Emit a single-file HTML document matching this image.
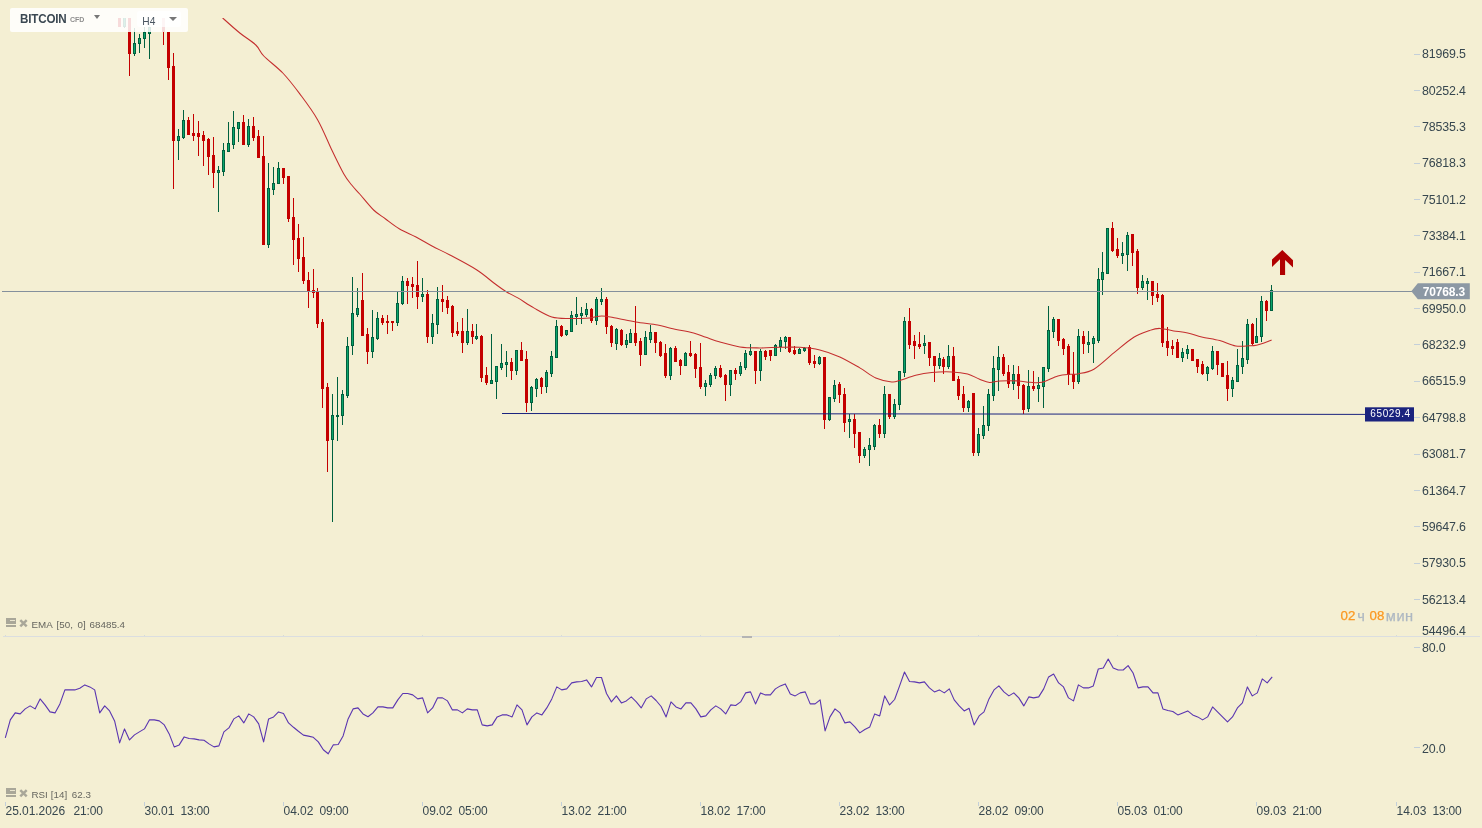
<!DOCTYPE html><html><head><meta charset="utf-8"><title>BITCOIN H4</title><style>

html,body{margin:0;padding:0}
body{width:1482px;height:828px;overflow:hidden;background:#f4efd3;font-family:"Liberation Sans",sans-serif;position:relative;color:#37474f}
.pl{position:absolute;left:1422.1px;font-size:12.4px;line-height:14px;height:14px;white-space:pre;letter-spacing:-0.17px}
.tl{position:absolute;top:803.7px;font-size:12px;line-height:14px;white-space:pre;letter-spacing:-0.06px}
.tb{position:absolute;left:10px;top:8px;width:178px;height:24px;background:rgba(255,255,255,0.86);border-radius:2px}
.h4{position:absolute;left:137px;top:10.5px;width:44px;height:16.5px;background:rgba(255,255,255,0.72);border-radius:2px}
.ind{position:absolute;left:31.4px;font-size:9.8px;line-height:12px;color:#66665f;white-space:pre}
.tm{position:absolute;top:608.2px;line-height:16px;white-space:pre;-webkit-text-stroke:0.25px}

</style></head><body>
<svg width="1482" height="828" viewBox="0 0 1482 828" style="position:absolute;left:0;top:0">
<defs><clipPath id="cp"><rect x="0" y="18" width="1482" height="618"/></clipPath></defs>
<g shape-rendering="crispEdges">
<rect x="3" y="636" width="1477" height="1" fill="#dbdee0"/>
<rect x="742" y="636" width="10" height="2" fill="#b4b4b4"/>
</g>
<g clip-path="url(#cp)" shape-rendering="crispEdges">
<rect x="119" y="0" width="1" height="27" fill="#c40000"/>
<rect x="118" y="0" width="3" height="27" fill="#c40000"/>
<rect x="124" y="0" width="1" height="28" fill="#00603f"/>
<rect x="123" y="0" width="3" height="27" fill="#00603f"/>
<rect x="124" y="1" width="1" height="25" fill="#0aa56a"/>
<rect x="129" y="0" width="1" height="76" fill="#c40000"/>
<rect x="128" y="0" width="3" height="54" fill="#c40000"/>
<rect x="134" y="28" width="1" height="28" fill="#00603f"/>
<rect x="133" y="43" width="3" height="11" fill="#00603f"/>
<rect x="134" y="44" width="1" height="9" fill="#0aa56a"/>
<rect x="139" y="34" width="1" height="19" fill="#00603f"/>
<rect x="138" y="38" width="3" height="6" fill="#00603f"/>
<rect x="139" y="39" width="1" height="4" fill="#0aa56a"/>
<rect x="144" y="27" width="1" height="21" fill="#00603f"/>
<rect x="143" y="32" width="3" height="7" fill="#00603f"/>
<rect x="144" y="33" width="1" height="5" fill="#0aa56a"/>
<rect x="149" y="22" width="1" height="37" fill="#00603f"/>
<rect x="148" y="27" width="3" height="7" fill="#00603f"/>
<rect x="149" y="28" width="1" height="5" fill="#0aa56a"/>
<rect x="163" y="0" width="1" height="45" fill="#c40000"/>
<rect x="162" y="0" width="3" height="32" fill="#c40000"/>
<rect x="168" y="32" width="1" height="48" fill="#c40000"/>
<rect x="167" y="32" width="3" height="36" fill="#c40000"/>
<rect x="173" y="53" width="1" height="136" fill="#c40000"/>
<rect x="172" y="66" width="3" height="75" fill="#c40000"/>
<rect x="178" y="129" width="1" height="31" fill="#00603f"/>
<rect x="177" y="136" width="3" height="5" fill="#00603f"/>
<rect x="178" y="137" width="1" height="3" fill="#0aa56a"/>
<rect x="183" y="110" width="1" height="29" fill="#00603f"/>
<rect x="182" y="120" width="3" height="18" fill="#00603f"/>
<rect x="183" y="121" width="1" height="16" fill="#0aa56a"/>
<rect x="188" y="117" width="1" height="18" fill="#c40000"/>
<rect x="187" y="120" width="3" height="15" fill="#c40000"/>
<rect x="193" y="114" width="1" height="27" fill="#c40000"/>
<rect x="192" y="133" width="3" height="3" fill="#c40000"/>
<rect x="198" y="121" width="1" height="35" fill="#c40000"/>
<rect x="197" y="133" width="3" height="4" fill="#c40000"/>
<rect x="203" y="131" width="1" height="35" fill="#c40000"/>
<rect x="202" y="135" width="3" height="6" fill="#c40000"/>
<rect x="208" y="138" width="1" height="37" fill="#c40000"/>
<rect x="207" y="139" width="3" height="18" fill="#c40000"/>
<rect x="213" y="137" width="1" height="51" fill="#c40000"/>
<rect x="212" y="155" width="3" height="18" fill="#c40000"/>
<rect x="218" y="166" width="1" height="46" fill="#00603f"/>
<rect x="217" y="170" width="3" height="3" fill="#00603f"/>
<rect x="218" y="171" width="1" height="1" fill="#0aa56a"/>
<rect x="223" y="143" width="1" height="33" fill="#00603f"/>
<rect x="222" y="150" width="3" height="22" fill="#00603f"/>
<rect x="223" y="151" width="1" height="20" fill="#0aa56a"/>
<rect x="228" y="122" width="1" height="30" fill="#00603f"/>
<rect x="227" y="143" width="3" height="9" fill="#00603f"/>
<rect x="228" y="144" width="1" height="7" fill="#0aa56a"/>
<rect x="233" y="111" width="1" height="38" fill="#00603f"/>
<rect x="232" y="127" width="3" height="18" fill="#00603f"/>
<rect x="233" y="128" width="1" height="16" fill="#0aa56a"/>
<rect x="238" y="122" width="1" height="20" fill="#00603f"/>
<rect x="237" y="122" width="3" height="7" fill="#00603f"/>
<rect x="238" y="123" width="1" height="5" fill="#0aa56a"/>
<rect x="243" y="115" width="1" height="30" fill="#c40000"/>
<rect x="242" y="122" width="3" height="23" fill="#c40000"/>
<rect x="248" y="119" width="1" height="28" fill="#00603f"/>
<rect x="247" y="126" width="3" height="19" fill="#00603f"/>
<rect x="248" y="127" width="1" height="17" fill="#0aa56a"/>
<rect x="253" y="117" width="1" height="24" fill="#c40000"/>
<rect x="252" y="126" width="3" height="12" fill="#c40000"/>
<rect x="258" y="130" width="1" height="28" fill="#c40000"/>
<rect x="257" y="136" width="3" height="22" fill="#c40000"/>
<rect x="263" y="136" width="1" height="109" fill="#c40000"/>
<rect x="262" y="156" width="3" height="89" fill="#c40000"/>
<rect x="268" y="163" width="1" height="85" fill="#00603f"/>
<rect x="267" y="188" width="3" height="57" fill="#00603f"/>
<rect x="268" y="189" width="1" height="55" fill="#0aa56a"/>
<rect x="273" y="167" width="1" height="28" fill="#00603f"/>
<rect x="272" y="183" width="3" height="7" fill="#00603f"/>
<rect x="273" y="184" width="1" height="5" fill="#0aa56a"/>
<rect x="278" y="162" width="1" height="22" fill="#00603f"/>
<rect x="277" y="168" width="3" height="16" fill="#00603f"/>
<rect x="278" y="169" width="1" height="14" fill="#0aa56a"/>
<rect x="283" y="168" width="1" height="16" fill="#c40000"/>
<rect x="282" y="168" width="3" height="10" fill="#c40000"/>
<rect x="288" y="176" width="1" height="46" fill="#c40000"/>
<rect x="287" y="176" width="3" height="43" fill="#c40000"/>
<rect x="293" y="198" width="1" height="67" fill="#c40000"/>
<rect x="292" y="217" width="3" height="23" fill="#c40000"/>
<rect x="298" y="224" width="1" height="48" fill="#c40000"/>
<rect x="297" y="238" width="3" height="21" fill="#c40000"/>
<rect x="303" y="237" width="1" height="47" fill="#c40000"/>
<rect x="302" y="257" width="3" height="24" fill="#c40000"/>
<rect x="308" y="272" width="1" height="36" fill="#c40000"/>
<rect x="307" y="280" width="3" height="11" fill="#c40000"/>
<rect x="313" y="269" width="1" height="29" fill="#c40000"/>
<rect x="312" y="290" width="3" height="3" fill="#c40000"/>
<rect x="317" y="288" width="1" height="40" fill="#c40000"/>
<rect x="316" y="291" width="3" height="33" fill="#c40000"/>
<rect x="322" y="319" width="1" height="89" fill="#c40000"/>
<rect x="321" y="322" width="3" height="67" fill="#c40000"/>
<rect x="327" y="383" width="1" height="89" fill="#c40000"/>
<rect x="326" y="387" width="3" height="54" fill="#c40000"/>
<rect x="332" y="394" width="1" height="128" fill="#00603f"/>
<rect x="331" y="415" width="3" height="25" fill="#00603f"/>
<rect x="332" y="416" width="1" height="23" fill="#0aa56a"/>
<rect x="337" y="377" width="1" height="64" fill="#00603f"/>
<rect x="336" y="415" width="3" height="2" fill="#00603f"/>
<rect x="342" y="390" width="1" height="35" fill="#00603f"/>
<rect x="341" y="394" width="3" height="22" fill="#00603f"/>
<rect x="342" y="395" width="1" height="20" fill="#0aa56a"/>
<rect x="347" y="337" width="1" height="61" fill="#00603f"/>
<rect x="346" y="346" width="3" height="50" fill="#00603f"/>
<rect x="347" y="347" width="1" height="48" fill="#0aa56a"/>
<rect x="352" y="277" width="1" height="78" fill="#00603f"/>
<rect x="351" y="313" width="3" height="33" fill="#00603f"/>
<rect x="352" y="314" width="1" height="31" fill="#0aa56a"/>
<rect x="357" y="288" width="1" height="29" fill="#00603f"/>
<rect x="356" y="308" width="3" height="7" fill="#00603f"/>
<rect x="357" y="309" width="1" height="5" fill="#0aa56a"/>
<rect x="362" y="273" width="1" height="63" fill="#c40000"/>
<rect x="361" y="300" width="3" height="36" fill="#c40000"/>
<rect x="367" y="328" width="1" height="36" fill="#c40000"/>
<rect x="366" y="334" width="3" height="18" fill="#c40000"/>
<rect x="372" y="310" width="1" height="48" fill="#00603f"/>
<rect x="371" y="337" width="3" height="15" fill="#00603f"/>
<rect x="372" y="338" width="1" height="13" fill="#0aa56a"/>
<rect x="377" y="312" width="1" height="28" fill="#00603f"/>
<rect x="376" y="318" width="3" height="21" fill="#00603f"/>
<rect x="377" y="319" width="1" height="19" fill="#0aa56a"/>
<rect x="382" y="315" width="1" height="10" fill="#c40000"/>
<rect x="381" y="318" width="3" height="5" fill="#c40000"/>
<rect x="387" y="315" width="1" height="19" fill="#c40000"/>
<rect x="386" y="321" width="3" height="2" fill="#c40000"/>
<rect x="392" y="321" width="1" height="10" fill="#c40000"/>
<rect x="391" y="321" width="3" height="2" fill="#c40000"/>
<rect x="397" y="292" width="1" height="34" fill="#00603f"/>
<rect x="396" y="303" width="3" height="20" fill="#00603f"/>
<rect x="397" y="304" width="1" height="18" fill="#0aa56a"/>
<rect x="402" y="276" width="1" height="29" fill="#00603f"/>
<rect x="401" y="281" width="3" height="23" fill="#00603f"/>
<rect x="402" y="282" width="1" height="21" fill="#0aa56a"/>
<rect x="407" y="278" width="1" height="26" fill="#c40000"/>
<rect x="406" y="281" width="3" height="5" fill="#c40000"/>
<rect x="412" y="277" width="1" height="21" fill="#c40000"/>
<rect x="411" y="284" width="3" height="3" fill="#c40000"/>
<rect x="417" y="261" width="1" height="48" fill="#c40000"/>
<rect x="416" y="285" width="3" height="12" fill="#c40000"/>
<rect x="422" y="278" width="1" height="24" fill="#00603f"/>
<rect x="421" y="294" width="3" height="3" fill="#00603f"/>
<rect x="422" y="295" width="1" height="1" fill="#0aa56a"/>
<rect x="427" y="290" width="1" height="53" fill="#c40000"/>
<rect x="426" y="294" width="3" height="43" fill="#c40000"/>
<rect x="432" y="314" width="1" height="30" fill="#00603f"/>
<rect x="431" y="323" width="3" height="14" fill="#00603f"/>
<rect x="432" y="324" width="1" height="12" fill="#0aa56a"/>
<rect x="437" y="287" width="1" height="47" fill="#00603f"/>
<rect x="436" y="299" width="3" height="26" fill="#00603f"/>
<rect x="437" y="300" width="1" height="24" fill="#0aa56a"/>
<rect x="442" y="285" width="1" height="27" fill="#c40000"/>
<rect x="441" y="299" width="3" height="3" fill="#c40000"/>
<rect x="447" y="296" width="1" height="18" fill="#c40000"/>
<rect x="446" y="300" width="3" height="8" fill="#c40000"/>
<rect x="452" y="305" width="1" height="32" fill="#c40000"/>
<rect x="451" y="306" width="3" height="27" fill="#c40000"/>
<rect x="457" y="322" width="1" height="14" fill="#c40000"/>
<rect x="456" y="331" width="3" height="3" fill="#c40000"/>
<rect x="462" y="318" width="1" height="35" fill="#c40000"/>
<rect x="461" y="331" width="3" height="12" fill="#c40000"/>
<rect x="467" y="309" width="1" height="36" fill="#00603f"/>
<rect x="466" y="331" width="3" height="12" fill="#00603f"/>
<rect x="467" y="332" width="1" height="10" fill="#0aa56a"/>
<rect x="472" y="324" width="1" height="20" fill="#c40000"/>
<rect x="471" y="331" width="3" height="6" fill="#c40000"/>
<rect x="476" y="324" width="1" height="16" fill="#00603f"/>
<rect x="475" y="336" width="3" height="3" fill="#00603f"/>
<rect x="476" y="337" width="1" height="1" fill="#0aa56a"/>
<rect x="481" y="335" width="1" height="47" fill="#c40000"/>
<rect x="480" y="336" width="3" height="42" fill="#c40000"/>
<rect x="486" y="367" width="1" height="18" fill="#c40000"/>
<rect x="485" y="375" width="3" height="8" fill="#c40000"/>
<rect x="491" y="334" width="1" height="50" fill="#00603f"/>
<rect x="490" y="380" width="3" height="4" fill="#00603f"/>
<rect x="491" y="381" width="1" height="2" fill="#0aa56a"/>
<rect x="496" y="366" width="1" height="33" fill="#00603f"/>
<rect x="495" y="366" width="3" height="16" fill="#00603f"/>
<rect x="496" y="367" width="1" height="14" fill="#0aa56a"/>
<rect x="501" y="344" width="1" height="26" fill="#00603f"/>
<rect x="500" y="363" width="3" height="5" fill="#00603f"/>
<rect x="501" y="364" width="1" height="3" fill="#0aa56a"/>
<rect x="506" y="351" width="1" height="26" fill="#00603f"/>
<rect x="505" y="362" width="3" height="3" fill="#00603f"/>
<rect x="506" y="363" width="1" height="1" fill="#0aa56a"/>
<rect x="511" y="358" width="1" height="22" fill="#c40000"/>
<rect x="510" y="362" width="3" height="9" fill="#c40000"/>
<rect x="516" y="350" width="1" height="25" fill="#00603f"/>
<rect x="515" y="350" width="3" height="21" fill="#00603f"/>
<rect x="516" y="351" width="1" height="19" fill="#0aa56a"/>
<rect x="521" y="342" width="1" height="19" fill="#c40000"/>
<rect x="520" y="350" width="3" height="11" fill="#c40000"/>
<rect x="526" y="351" width="1" height="61" fill="#c40000"/>
<rect x="525" y="359" width="3" height="44" fill="#c40000"/>
<rect x="531" y="386" width="1" height="25" fill="#00603f"/>
<rect x="530" y="387" width="3" height="16" fill="#00603f"/>
<rect x="531" y="388" width="1" height="14" fill="#0aa56a"/>
<rect x="536" y="378" width="1" height="19" fill="#00603f"/>
<rect x="535" y="379" width="3" height="10" fill="#00603f"/>
<rect x="536" y="380" width="1" height="8" fill="#0aa56a"/>
<rect x="541" y="377" width="1" height="17" fill="#c40000"/>
<rect x="540" y="378" width="3" height="9" fill="#c40000"/>
<rect x="546" y="370" width="1" height="23" fill="#00603f"/>
<rect x="545" y="372" width="3" height="15" fill="#00603f"/>
<rect x="546" y="373" width="1" height="13" fill="#0aa56a"/>
<rect x="551" y="351" width="1" height="26" fill="#00603f"/>
<rect x="550" y="356" width="3" height="18" fill="#00603f"/>
<rect x="551" y="357" width="1" height="16" fill="#0aa56a"/>
<rect x="556" y="320" width="1" height="38" fill="#00603f"/>
<rect x="555" y="326" width="3" height="32" fill="#00603f"/>
<rect x="556" y="327" width="1" height="30" fill="#0aa56a"/>
<rect x="561" y="325" width="1" height="12" fill="#c40000"/>
<rect x="560" y="326" width="3" height="10" fill="#c40000"/>
<rect x="566" y="330" width="1" height="6" fill="#00603f"/>
<rect x="565" y="330" width="3" height="5" fill="#00603f"/>
<rect x="566" y="331" width="1" height="3" fill="#0aa56a"/>
<rect x="571" y="311" width="1" height="21" fill="#00603f"/>
<rect x="570" y="315" width="3" height="17" fill="#00603f"/>
<rect x="571" y="316" width="1" height="15" fill="#0aa56a"/>
<rect x="576" y="297" width="1" height="28" fill="#00603f"/>
<rect x="575" y="314" width="3" height="3" fill="#00603f"/>
<rect x="576" y="315" width="1" height="1" fill="#0aa56a"/>
<rect x="581" y="307" width="1" height="17" fill="#00603f"/>
<rect x="580" y="313" width="3" height="3" fill="#00603f"/>
<rect x="581" y="314" width="1" height="1" fill="#0aa56a"/>
<rect x="586" y="303" width="1" height="14" fill="#00603f"/>
<rect x="585" y="309" width="3" height="6" fill="#00603f"/>
<rect x="586" y="310" width="1" height="4" fill="#0aa56a"/>
<rect x="591" y="308" width="1" height="15" fill="#c40000"/>
<rect x="590" y="309" width="3" height="12" fill="#c40000"/>
<rect x="596" y="297" width="1" height="28" fill="#00603f"/>
<rect x="595" y="299" width="3" height="22" fill="#00603f"/>
<rect x="596" y="300" width="1" height="20" fill="#0aa56a"/>
<rect x="601" y="288" width="1" height="17" fill="#00603f"/>
<rect x="600" y="299" width="3" height="3" fill="#00603f"/>
<rect x="601" y="300" width="1" height="1" fill="#0aa56a"/>
<rect x="606" y="297" width="1" height="37" fill="#c40000"/>
<rect x="605" y="299" width="3" height="28" fill="#c40000"/>
<rect x="611" y="325" width="1" height="22" fill="#c40000"/>
<rect x="610" y="326" width="3" height="17" fill="#c40000"/>
<rect x="616" y="328" width="1" height="22" fill="#00603f"/>
<rect x="615" y="329" width="3" height="15" fill="#00603f"/>
<rect x="616" y="330" width="1" height="13" fill="#0aa56a"/>
<rect x="621" y="329" width="1" height="17" fill="#c40000"/>
<rect x="620" y="330" width="3" height="15" fill="#c40000"/>
<rect x="626" y="334" width="1" height="14" fill="#00603f"/>
<rect x="625" y="340" width="3" height="5" fill="#00603f"/>
<rect x="626" y="341" width="1" height="3" fill="#0aa56a"/>
<rect x="630" y="329" width="1" height="14" fill="#00603f"/>
<rect x="629" y="333" width="3" height="10" fill="#00603f"/>
<rect x="630" y="334" width="1" height="8" fill="#0aa56a"/>
<rect x="635" y="306" width="1" height="40" fill="#c40000"/>
<rect x="634" y="333" width="3" height="10" fill="#c40000"/>
<rect x="640" y="338" width="1" height="28" fill="#c40000"/>
<rect x="639" y="341" width="3" height="14" fill="#c40000"/>
<rect x="645" y="331" width="1" height="24" fill="#00603f"/>
<rect x="644" y="337" width="3" height="18" fill="#00603f"/>
<rect x="645" y="338" width="1" height="16" fill="#0aa56a"/>
<rect x="650" y="325" width="1" height="18" fill="#00603f"/>
<rect x="649" y="332" width="3" height="8" fill="#00603f"/>
<rect x="650" y="333" width="1" height="6" fill="#0aa56a"/>
<rect x="655" y="332" width="1" height="21" fill="#c40000"/>
<rect x="654" y="332" width="3" height="11" fill="#c40000"/>
<rect x="660" y="341" width="1" height="16" fill="#c40000"/>
<rect x="659" y="342" width="3" height="14" fill="#c40000"/>
<rect x="665" y="344" width="1" height="34" fill="#c40000"/>
<rect x="664" y="353" width="3" height="23" fill="#c40000"/>
<rect x="670" y="347" width="1" height="33" fill="#00603f"/>
<rect x="669" y="348" width="3" height="28" fill="#00603f"/>
<rect x="670" y="349" width="1" height="26" fill="#0aa56a"/>
<rect x="675" y="346" width="1" height="16" fill="#c40000"/>
<rect x="674" y="348" width="3" height="14" fill="#c40000"/>
<rect x="680" y="359" width="1" height="16" fill="#c40000"/>
<rect x="679" y="360" width="3" height="6" fill="#c40000"/>
<rect x="685" y="352" width="1" height="14" fill="#00603f"/>
<rect x="684" y="353" width="3" height="13" fill="#00603f"/>
<rect x="685" y="354" width="1" height="11" fill="#0aa56a"/>
<rect x="690" y="341" width="1" height="16" fill="#c40000"/>
<rect x="689" y="353" width="3" height="3" fill="#c40000"/>
<rect x="695" y="353" width="1" height="25" fill="#c40000"/>
<rect x="694" y="354" width="3" height="15" fill="#c40000"/>
<rect x="700" y="343" width="1" height="46" fill="#c40000"/>
<rect x="699" y="367" width="3" height="20" fill="#c40000"/>
<rect x="705" y="380" width="1" height="16" fill="#00603f"/>
<rect x="704" y="383" width="3" height="4" fill="#00603f"/>
<rect x="705" y="384" width="1" height="2" fill="#0aa56a"/>
<rect x="710" y="373" width="1" height="14" fill="#00603f"/>
<rect x="709" y="375" width="3" height="10" fill="#00603f"/>
<rect x="710" y="376" width="1" height="8" fill="#0aa56a"/>
<rect x="715" y="366" width="1" height="13" fill="#00603f"/>
<rect x="714" y="368" width="3" height="8" fill="#00603f"/>
<rect x="715" y="369" width="1" height="6" fill="#0aa56a"/>
<rect x="720" y="365" width="1" height="13" fill="#c40000"/>
<rect x="719" y="368" width="3" height="9" fill="#c40000"/>
<rect x="725" y="374" width="1" height="27" fill="#c40000"/>
<rect x="724" y="375" width="3" height="10" fill="#c40000"/>
<rect x="730" y="370" width="1" height="26" fill="#00603f"/>
<rect x="729" y="370" width="3" height="15" fill="#00603f"/>
<rect x="730" y="371" width="1" height="13" fill="#0aa56a"/>
<rect x="735" y="368" width="1" height="12" fill="#c40000"/>
<rect x="734" y="370" width="3" height="4" fill="#c40000"/>
<rect x="740" y="362" width="1" height="14" fill="#00603f"/>
<rect x="739" y="366" width="3" height="8" fill="#00603f"/>
<rect x="740" y="367" width="1" height="6" fill="#0aa56a"/>
<rect x="745" y="350" width="1" height="20" fill="#00603f"/>
<rect x="744" y="353" width="3" height="15" fill="#00603f"/>
<rect x="745" y="354" width="1" height="13" fill="#0aa56a"/>
<rect x="750" y="344" width="1" height="12" fill="#00603f"/>
<rect x="749" y="351" width="3" height="4" fill="#00603f"/>
<rect x="750" y="352" width="1" height="2" fill="#0aa56a"/>
<rect x="755" y="351" width="1" height="33" fill="#c40000"/>
<rect x="754" y="351" width="3" height="20" fill="#c40000"/>
<rect x="760" y="349" width="1" height="32" fill="#00603f"/>
<rect x="759" y="351" width="3" height="20" fill="#00603f"/>
<rect x="760" y="352" width="1" height="18" fill="#0aa56a"/>
<rect x="765" y="350" width="1" height="10" fill="#c40000"/>
<rect x="764" y="351" width="3" height="6" fill="#c40000"/>
<rect x="770" y="350" width="1" height="11" fill="#c40000"/>
<rect x="769" y="350" width="3" height="6" fill="#c40000"/>
<rect x="775" y="344" width="1" height="12" fill="#00603f"/>
<rect x="774" y="345" width="3" height="11" fill="#00603f"/>
<rect x="775" y="346" width="1" height="9" fill="#0aa56a"/>
<rect x="780" y="337" width="1" height="15" fill="#00603f"/>
<rect x="779" y="340" width="3" height="7" fill="#00603f"/>
<rect x="780" y="341" width="1" height="5" fill="#0aa56a"/>
<rect x="785" y="336" width="1" height="13" fill="#00603f"/>
<rect x="784" y="337" width="3" height="5" fill="#00603f"/>
<rect x="785" y="338" width="1" height="3" fill="#0aa56a"/>
<rect x="789" y="337" width="1" height="16" fill="#c40000"/>
<rect x="788" y="337" width="3" height="15" fill="#c40000"/>
<rect x="794" y="346" width="1" height="9" fill="#c40000"/>
<rect x="793" y="350" width="3" height="4" fill="#c40000"/>
<rect x="799" y="348" width="1" height="6" fill="#00603f"/>
<rect x="798" y="349" width="3" height="5" fill="#00603f"/>
<rect x="799" y="350" width="1" height="3" fill="#0aa56a"/>
<rect x="804" y="347" width="1" height="5" fill="#00603f"/>
<rect x="803" y="348" width="3" height="3" fill="#00603f"/>
<rect x="804" y="349" width="1" height="1" fill="#0aa56a"/>
<rect x="809" y="345" width="1" height="20" fill="#c40000"/>
<rect x="808" y="347" width="3" height="16" fill="#c40000"/>
<rect x="814" y="355" width="1" height="13" fill="#c40000"/>
<rect x="813" y="361" width="3" height="3" fill="#c40000"/>
<rect x="819" y="356" width="1" height="9" fill="#00603f"/>
<rect x="818" y="357" width="3" height="7" fill="#00603f"/>
<rect x="819" y="358" width="1" height="5" fill="#0aa56a"/>
<rect x="824" y="357" width="1" height="72" fill="#c40000"/>
<rect x="823" y="357" width="3" height="63" fill="#c40000"/>
<rect x="829" y="397" width="1" height="24" fill="#00603f"/>
<rect x="828" y="397" width="3" height="23" fill="#00603f"/>
<rect x="829" y="398" width="1" height="21" fill="#0aa56a"/>
<rect x="834" y="380" width="1" height="22" fill="#00603f"/>
<rect x="833" y="385" width="3" height="14" fill="#00603f"/>
<rect x="834" y="386" width="1" height="12" fill="#0aa56a"/>
<rect x="839" y="382" width="1" height="21" fill="#c40000"/>
<rect x="838" y="384" width="3" height="11" fill="#c40000"/>
<rect x="844" y="388" width="1" height="44" fill="#c40000"/>
<rect x="843" y="394" width="3" height="29" fill="#c40000"/>
<rect x="849" y="414" width="1" height="24" fill="#00603f"/>
<rect x="848" y="419" width="3" height="3" fill="#00603f"/>
<rect x="849" y="420" width="1" height="1" fill="#0aa56a"/>
<rect x="854" y="414" width="1" height="34" fill="#c40000"/>
<rect x="853" y="419" width="3" height="15" fill="#c40000"/>
<rect x="859" y="432" width="1" height="31" fill="#c40000"/>
<rect x="858" y="432" width="3" height="24" fill="#c40000"/>
<rect x="864" y="447" width="1" height="11" fill="#00603f"/>
<rect x="863" y="449" width="3" height="7" fill="#00603f"/>
<rect x="864" y="450" width="1" height="5" fill="#0aa56a"/>
<rect x="869" y="438" width="1" height="28" fill="#00603f"/>
<rect x="868" y="445" width="3" height="5" fill="#00603f"/>
<rect x="869" y="446" width="1" height="3" fill="#0aa56a"/>
<rect x="874" y="424" width="1" height="26" fill="#00603f"/>
<rect x="873" y="425" width="3" height="22" fill="#00603f"/>
<rect x="874" y="426" width="1" height="20" fill="#0aa56a"/>
<rect x="879" y="419" width="1" height="19" fill="#c40000"/>
<rect x="878" y="425" width="3" height="9" fill="#c40000"/>
<rect x="884" y="386" width="1" height="52" fill="#00603f"/>
<rect x="883" y="394" width="3" height="40" fill="#00603f"/>
<rect x="884" y="395" width="1" height="38" fill="#0aa56a"/>
<rect x="889" y="394" width="1" height="25" fill="#c40000"/>
<rect x="888" y="394" width="3" height="23" fill="#c40000"/>
<rect x="894" y="399" width="1" height="20" fill="#00603f"/>
<rect x="893" y="404" width="3" height="13" fill="#00603f"/>
<rect x="894" y="405" width="1" height="11" fill="#0aa56a"/>
<rect x="899" y="371" width="1" height="39" fill="#00603f"/>
<rect x="898" y="371" width="3" height="34" fill="#00603f"/>
<rect x="899" y="372" width="1" height="32" fill="#0aa56a"/>
<rect x="904" y="317" width="1" height="60" fill="#00603f"/>
<rect x="903" y="321" width="3" height="52" fill="#00603f"/>
<rect x="904" y="322" width="1" height="50" fill="#0aa56a"/>
<rect x="909" y="308" width="1" height="41" fill="#c40000"/>
<rect x="908" y="321" width="3" height="24" fill="#c40000"/>
<rect x="914" y="335" width="1" height="24" fill="#c40000"/>
<rect x="913" y="341" width="3" height="5" fill="#c40000"/>
<rect x="919" y="332" width="1" height="17" fill="#c40000"/>
<rect x="918" y="344" width="3" height="3" fill="#c40000"/>
<rect x="924" y="335" width="1" height="19" fill="#00603f"/>
<rect x="923" y="343" width="3" height="3" fill="#00603f"/>
<rect x="924" y="344" width="1" height="1" fill="#0aa56a"/>
<rect x="929" y="342" width="1" height="24" fill="#c40000"/>
<rect x="928" y="342" width="3" height="16" fill="#c40000"/>
<rect x="934" y="356" width="1" height="26" fill="#c40000"/>
<rect x="933" y="356" width="3" height="10" fill="#c40000"/>
<rect x="939" y="353" width="1" height="16" fill="#00603f"/>
<rect x="938" y="358" width="3" height="8" fill="#00603f"/>
<rect x="939" y="359" width="1" height="6" fill="#0aa56a"/>
<rect x="943" y="357" width="1" height="17" fill="#c40000"/>
<rect x="942" y="359" width="3" height="8" fill="#c40000"/>
<rect x="948" y="345" width="1" height="24" fill="#00603f"/>
<rect x="947" y="356" width="3" height="11" fill="#00603f"/>
<rect x="948" y="357" width="1" height="9" fill="#0aa56a"/>
<rect x="953" y="347" width="1" height="34" fill="#c40000"/>
<rect x="952" y="356" width="3" height="25" fill="#c40000"/>
<rect x="958" y="376" width="1" height="24" fill="#c40000"/>
<rect x="957" y="379" width="3" height="17" fill="#c40000"/>
<rect x="963" y="386" width="1" height="26" fill="#c40000"/>
<rect x="962" y="394" width="3" height="14" fill="#c40000"/>
<rect x="968" y="400" width="1" height="12" fill="#00603f"/>
<rect x="967" y="401" width="3" height="7" fill="#00603f"/>
<rect x="968" y="402" width="1" height="5" fill="#0aa56a"/>
<rect x="973" y="393" width="1" height="63" fill="#c40000"/>
<rect x="972" y="393" width="3" height="60" fill="#c40000"/>
<rect x="978" y="428" width="1" height="28" fill="#00603f"/>
<rect x="977" y="434" width="3" height="19" fill="#00603f"/>
<rect x="978" y="435" width="1" height="17" fill="#0aa56a"/>
<rect x="983" y="406" width="1" height="33" fill="#00603f"/>
<rect x="982" y="425" width="3" height="11" fill="#00603f"/>
<rect x="983" y="426" width="1" height="9" fill="#0aa56a"/>
<rect x="988" y="389" width="1" height="42" fill="#00603f"/>
<rect x="987" y="394" width="3" height="32" fill="#00603f"/>
<rect x="988" y="395" width="1" height="30" fill="#0aa56a"/>
<rect x="993" y="356" width="1" height="45" fill="#00603f"/>
<rect x="992" y="368" width="3" height="28" fill="#00603f"/>
<rect x="993" y="369" width="1" height="26" fill="#0aa56a"/>
<rect x="998" y="346" width="1" height="45" fill="#00603f"/>
<rect x="997" y="357" width="3" height="13" fill="#00603f"/>
<rect x="998" y="358" width="1" height="11" fill="#0aa56a"/>
<rect x="1003" y="354" width="1" height="22" fill="#c40000"/>
<rect x="1002" y="357" width="3" height="17" fill="#c40000"/>
<rect x="1008" y="365" width="1" height="23" fill="#c40000"/>
<rect x="1007" y="372" width="3" height="12" fill="#c40000"/>
<rect x="1013" y="365" width="1" height="25" fill="#00603f"/>
<rect x="1012" y="374" width="3" height="10" fill="#00603f"/>
<rect x="1013" y="375" width="1" height="8" fill="#0aa56a"/>
<rect x="1018" y="366" width="1" height="33" fill="#c40000"/>
<rect x="1017" y="374" width="3" height="12" fill="#c40000"/>
<rect x="1023" y="384" width="1" height="30" fill="#c40000"/>
<rect x="1022" y="385" width="3" height="25" fill="#c40000"/>
<rect x="1028" y="370" width="1" height="42" fill="#00603f"/>
<rect x="1027" y="386" width="3" height="23" fill="#00603f"/>
<rect x="1028" y="387" width="1" height="21" fill="#0aa56a"/>
<rect x="1033" y="371" width="1" height="20" fill="#c40000"/>
<rect x="1032" y="386" width="3" height="3" fill="#c40000"/>
<rect x="1038" y="377" width="1" height="25" fill="#00603f"/>
<rect x="1037" y="385" width="3" height="4" fill="#00603f"/>
<rect x="1038" y="386" width="1" height="2" fill="#0aa56a"/>
<rect x="1043" y="367" width="1" height="41" fill="#00603f"/>
<rect x="1042" y="367" width="3" height="20" fill="#00603f"/>
<rect x="1043" y="368" width="1" height="18" fill="#0aa56a"/>
<rect x="1048" y="306" width="1" height="66" fill="#00603f"/>
<rect x="1047" y="330" width="3" height="39" fill="#00603f"/>
<rect x="1048" y="331" width="1" height="37" fill="#0aa56a"/>
<rect x="1053" y="317" width="1" height="21" fill="#00603f"/>
<rect x="1052" y="319" width="3" height="13" fill="#00603f"/>
<rect x="1053" y="320" width="1" height="11" fill="#0aa56a"/>
<rect x="1058" y="319" width="1" height="27" fill="#c40000"/>
<rect x="1057" y="319" width="3" height="22" fill="#c40000"/>
<rect x="1063" y="338" width="1" height="17" fill="#c40000"/>
<rect x="1062" y="339" width="3" height="10" fill="#c40000"/>
<rect x="1068" y="344" width="1" height="41" fill="#c40000"/>
<rect x="1067" y="346" width="3" height="29" fill="#c40000"/>
<rect x="1073" y="352" width="1" height="37" fill="#c40000"/>
<rect x="1072" y="374" width="3" height="8" fill="#c40000"/>
<rect x="1078" y="329" width="1" height="55" fill="#00603f"/>
<rect x="1077" y="336" width="3" height="46" fill="#00603f"/>
<rect x="1078" y="337" width="1" height="44" fill="#0aa56a"/>
<rect x="1083" y="331" width="1" height="23" fill="#c40000"/>
<rect x="1082" y="336" width="3" height="8" fill="#c40000"/>
<rect x="1088" y="331" width="1" height="22" fill="#00603f"/>
<rect x="1087" y="342" width="3" height="3" fill="#00603f"/>
<rect x="1088" y="343" width="1" height="1" fill="#0aa56a"/>
<rect x="1093" y="336" width="1" height="27" fill="#00603f"/>
<rect x="1092" y="338" width="3" height="6" fill="#00603f"/>
<rect x="1093" y="339" width="1" height="4" fill="#0aa56a"/>
<rect x="1098" y="268" width="1" height="75" fill="#00603f"/>
<rect x="1097" y="279" width="3" height="62" fill="#00603f"/>
<rect x="1098" y="280" width="1" height="60" fill="#0aa56a"/>
<rect x="1102" y="252" width="1" height="43" fill="#00603f"/>
<rect x="1101" y="272" width="3" height="8" fill="#00603f"/>
<rect x="1102" y="273" width="1" height="6" fill="#0aa56a"/>
<rect x="1107" y="228" width="1" height="46" fill="#00603f"/>
<rect x="1106" y="228" width="3" height="46" fill="#00603f"/>
<rect x="1107" y="229" width="1" height="44" fill="#0aa56a"/>
<rect x="1112" y="222" width="1" height="30" fill="#c40000"/>
<rect x="1111" y="228" width="3" height="23" fill="#c40000"/>
<rect x="1117" y="238" width="1" height="20" fill="#c40000"/>
<rect x="1116" y="249" width="3" height="7" fill="#c40000"/>
<rect x="1122" y="242" width="1" height="22" fill="#00603f"/>
<rect x="1121" y="253" width="3" height="3" fill="#00603f"/>
<rect x="1122" y="254" width="1" height="1" fill="#0aa56a"/>
<rect x="1127" y="232" width="1" height="39" fill="#00603f"/>
<rect x="1126" y="235" width="3" height="20" fill="#00603f"/>
<rect x="1127" y="236" width="1" height="18" fill="#0aa56a"/>
<rect x="1132" y="234" width="1" height="32" fill="#c40000"/>
<rect x="1131" y="234" width="3" height="19" fill="#c40000"/>
<rect x="1137" y="249" width="1" height="45" fill="#c40000"/>
<rect x="1136" y="251" width="3" height="37" fill="#c40000"/>
<rect x="1142" y="275" width="1" height="15" fill="#00603f"/>
<rect x="1141" y="281" width="3" height="7" fill="#00603f"/>
<rect x="1142" y="282" width="1" height="5" fill="#0aa56a"/>
<rect x="1147" y="278" width="1" height="22" fill="#00603f"/>
<rect x="1146" y="281" width="3" height="3" fill="#00603f"/>
<rect x="1147" y="282" width="1" height="1" fill="#0aa56a"/>
<rect x="1152" y="281" width="1" height="24" fill="#c40000"/>
<rect x="1151" y="281" width="3" height="15" fill="#c40000"/>
<rect x="1157" y="283" width="1" height="19" fill="#c40000"/>
<rect x="1156" y="294" width="3" height="4" fill="#c40000"/>
<rect x="1162" y="294" width="1" height="53" fill="#c40000"/>
<rect x="1161" y="295" width="3" height="48" fill="#c40000"/>
<rect x="1167" y="327" width="1" height="29" fill="#c40000"/>
<rect x="1166" y="341" width="3" height="7" fill="#c40000"/>
<rect x="1172" y="340" width="1" height="15" fill="#c40000"/>
<rect x="1171" y="346" width="3" height="3" fill="#c40000"/>
<rect x="1177" y="339" width="1" height="19" fill="#c40000"/>
<rect x="1176" y="342" width="3" height="16" fill="#c40000"/>
<rect x="1182" y="348" width="1" height="14" fill="#00603f"/>
<rect x="1181" y="352" width="3" height="6" fill="#00603f"/>
<rect x="1182" y="353" width="1" height="4" fill="#0aa56a"/>
<rect x="1187" y="345" width="1" height="14" fill="#00603f"/>
<rect x="1186" y="349" width="3" height="5" fill="#00603f"/>
<rect x="1187" y="350" width="1" height="3" fill="#0aa56a"/>
<rect x="1192" y="349" width="1" height="12" fill="#c40000"/>
<rect x="1191" y="349" width="3" height="12" fill="#c40000"/>
<rect x="1197" y="359" width="1" height="14" fill="#c40000"/>
<rect x="1196" y="359" width="3" height="8" fill="#c40000"/>
<rect x="1202" y="361" width="1" height="14" fill="#c40000"/>
<rect x="1201" y="364" width="3" height="10" fill="#c40000"/>
<rect x="1207" y="366" width="1" height="15" fill="#00603f"/>
<rect x="1206" y="367" width="3" height="7" fill="#00603f"/>
<rect x="1207" y="368" width="1" height="5" fill="#0aa56a"/>
<rect x="1212" y="346" width="1" height="24" fill="#00603f"/>
<rect x="1211" y="351" width="3" height="18" fill="#00603f"/>
<rect x="1212" y="352" width="1" height="16" fill="#0aa56a"/>
<rect x="1217" y="351" width="1" height="24" fill="#c40000"/>
<rect x="1216" y="351" width="3" height="14" fill="#c40000"/>
<rect x="1222" y="363" width="1" height="14" fill="#c40000"/>
<rect x="1221" y="363" width="3" height="14" fill="#c40000"/>
<rect x="1227" y="361" width="1" height="40" fill="#c40000"/>
<rect x="1226" y="375" width="3" height="14" fill="#c40000"/>
<rect x="1232" y="377" width="1" height="20" fill="#00603f"/>
<rect x="1231" y="380" width="3" height="9" fill="#00603f"/>
<rect x="1232" y="381" width="1" height="7" fill="#0aa56a"/>
<rect x="1237" y="349" width="1" height="33" fill="#00603f"/>
<rect x="1236" y="365" width="3" height="17" fill="#00603f"/>
<rect x="1237" y="366" width="1" height="15" fill="#0aa56a"/>
<rect x="1242" y="341" width="1" height="33" fill="#00603f"/>
<rect x="1241" y="358" width="3" height="9" fill="#00603f"/>
<rect x="1242" y="359" width="1" height="7" fill="#0aa56a"/>
<rect x="1247" y="319" width="1" height="45" fill="#00603f"/>
<rect x="1246" y="324" width="3" height="36" fill="#00603f"/>
<rect x="1247" y="325" width="1" height="34" fill="#0aa56a"/>
<rect x="1252" y="323" width="1" height="22" fill="#c40000"/>
<rect x="1251" y="324" width="3" height="20" fill="#c40000"/>
<rect x="1256" y="318" width="1" height="25" fill="#00603f"/>
<rect x="1255" y="336" width="3" height="7" fill="#00603f"/>
<rect x="1256" y="337" width="1" height="5" fill="#0aa56a"/>
<rect x="1261" y="296" width="1" height="46" fill="#00603f"/>
<rect x="1260" y="301" width="3" height="36" fill="#00603f"/>
<rect x="1261" y="302" width="1" height="34" fill="#0aa56a"/>
<rect x="1266" y="300" width="1" height="21" fill="#c40000"/>
<rect x="1265" y="301" width="3" height="10" fill="#c40000"/>
<rect x="1271" y="285" width="1" height="26" fill="#00603f"/>
<rect x="1270" y="290" width="3" height="21" fill="#00603f"/>
<rect x="1271" y="291" width="1" height="19" fill="#0aa56a"/>
</g>
<path clip-path="url(#cp)" d="M221.0 16.0 C221.7 16.7 221.8 17.2 224.9 20.0 C228.0 22.8 234.7 28.8 239.8 33.0 C245.0 37.2 251.8 41.2 255.8 45.0 C259.8 48.8 259.3 51.3 263.8 56.0 C268.3 60.7 276.8 66.7 282.8 73.0 C288.8 79.3 294.0 86.1 299.8 93.9 C305.6 101.7 312.4 110.6 317.7 119.9 C323.0 129.2 327.4 140.8 331.7 149.8 C336.0 158.8 340.4 167.9 343.7 173.8 C347.0 179.7 349.0 181.6 351.7 185.0 C354.4 188.4 356.0 189.8 359.7 194.0 C363.4 198.2 369.3 205.8 373.6 210.0 C377.9 214.2 381.3 215.8 385.6 219.0 C389.9 222.2 394.5 226.0 399.6 229.0 C404.7 232.0 410.6 234.2 416.0 237.0 C421.4 239.8 426.4 243.0 432.0 246.0 C437.6 249.0 442.4 251.0 449.9 255.0 C457.4 259.0 469.6 265.3 476.9 270.0 C484.2 274.7 489.1 279.4 493.9 283.0 C498.7 286.6 501.9 289.0 505.9 291.5 C509.9 294.0 513.1 295.2 517.8 297.9 C522.4 300.6 528.1 304.7 533.8 307.9 C539.5 311.1 545.8 315.1 551.8 316.9 C557.8 318.7 563.5 318.3 569.8 318.5 C576.1 318.7 584.4 318.3 589.7 317.9 C595.0 317.5 597.4 315.9 601.7 315.9 C606.0 315.9 610.0 316.9 615.7 317.9 C621.4 318.9 628.7 320.7 635.7 321.9 C642.7 323.1 651.7 323.8 657.7 324.9 C663.7 326.0 665.6 327.2 671.6 328.5 C677.6 329.8 687.9 331.4 693.6 332.9 C699.3 334.4 701.6 335.8 706.0 337.3 C710.4 338.8 714.4 340.4 720.0 342.0 C725.6 343.6 733.2 345.9 739.9 346.9 C746.5 347.9 753.2 347.8 759.9 347.9 C766.6 348.0 773.2 347.4 779.9 347.3 C786.6 347.2 793.2 346.9 799.9 347.3 C806.5 347.7 813.1 348.3 819.8 349.9 C826.4 351.5 833.1 353.9 839.8 356.9 C846.5 359.9 853.8 364.4 859.8 367.9 C865.8 371.4 870.5 375.6 875.8 377.9 C881.1 380.2 887.7 381.5 891.7 381.9 C895.7 382.3 895.7 381.6 899.7 380.5 C903.7 379.4 910.4 376.6 915.7 375.3 C921.0 374.0 925.7 373.1 931.7 372.5 C937.7 371.9 945.6 371.7 951.6 371.9 C957.6 372.1 962.9 372.7 967.6 373.9 C972.3 375.1 975.9 377.9 979.6 379.3 C983.3 380.7 986.2 382.2 989.6 382.5 C993.0 382.8 995.3 381.2 1000.0 380.9 C1004.7 380.6 1013.0 380.7 1018.0 380.9 C1023.0 381.1 1025.9 382.1 1029.9 382.3 C1033.9 382.5 1037.2 383.4 1041.9 382.3 C1046.6 381.2 1053.2 377.2 1057.9 375.9 C1062.6 374.6 1066.6 374.6 1069.9 374.3 C1073.2 374.0 1073.9 374.8 1077.9 373.9 C1081.9 373.0 1087.9 372.7 1093.9 369.2 C1099.9 365.7 1107.2 358.2 1113.8 352.9 C1120.4 347.6 1127.8 340.9 1133.8 337.2 C1139.8 333.4 1145.5 331.9 1149.8 330.4 C1154.1 328.9 1155.8 328.3 1159.8 328.4 C1163.8 328.5 1169.0 330.1 1173.7 330.9 C1178.4 331.6 1183.0 331.9 1187.7 332.9 C1192.4 333.9 1196.4 335.6 1201.7 336.9 C1207.0 338.2 1214.0 339.1 1219.7 340.6 C1225.4 342.1 1230.7 345.0 1235.7 345.9 C1240.7 346.8 1246.1 345.9 1249.6 345.8 C1253.1 345.7 1254.1 345.7 1256.5 345.2 C1258.9 344.7 1261.5 343.9 1264.0 343.0 C1266.5 342.1 1270.3 340.6 1271.6 340.1" fill="none" stroke="#c42e2e" stroke-width="1.05" stroke-linejoin="round"/>
<g shape-rendering="crispEdges">
<rect x="2" y="291" width="1412" height="1" fill="#84909c"/>
</g>
<line x1="502" y1="413.5" x2="1365" y2="414.4" stroke="#1a237e" stroke-width="1"/>
<polyline points="5.3,737.9 10.3,719.9 15.2,712.9 20.2,713.9 25.2,708.9 30.1,705.9 35.1,708.9 40.1,698.9 45.0,704.9 50.0,711.9 55.0,712.9 59.9,703.9 64.9,689.9 69.9,689.9 74.8,689.9 79.8,688.3 84.8,684.9 89.8,686.9 94.7,689.9 99.7,712.9 104.7,705.9 109.6,710.9 114.6,720.9 119.6,742.9 124.5,728.9 129.5,739.9 134.5,734.9 139.4,731.9 144.4,728.9 149.4,719.9 154.3,719.9 159.3,720.9 164.3,724.9 169.2,733.9 174.2,746.9 179.2,744.9 184.2,736.9 189.1,738.5 194.1,738.9 199.1,739.9 204.0,740.3 209.0,743.9 214.0,746.9 218.9,745.9 223.9,731.9 228.9,727.9 233.8,718.9 238.8,715.9 243.8,722.9 248.7,713.9 253.7,716.9 258.7,723.9 263.6,741.9 268.6,718.9 273.6,716.9 278.5,711.9 283.5,713.5 288.5,722.9 293.5,727.3 298.4,731.3 303.4,735.1 308.4,736.1 313.3,737.3 318.3,741.9 323.3,749.8 328.2,753.8 333.2,744.9 338.2,744.5 343.1,735.9 348.1,718.9 353.1,708.9 358.0,707.9 363.0,713.9 368.0,716.7 372.9,712.9 377.9,706.9 382.9,706.9 387.8,707.9 392.8,707.9 397.8,699.9 402.8,693.5 407.7,693.5 412.7,694.9 417.7,698.9 422.6,697.9 427.6,712.9 432.6,707.9 437.5,697.9 442.5,697.9 447.5,700.9 452.4,709.9 457.4,709.9 462.4,712.9 467.3,708.9 472.3,709.9 477.3,709.9 482.2,724.9 487.2,725.9 492.2,724.9 497.2,716.9 502.1,714.9 507.1,714.9 512.1,716.9 517.0,704.9 522.0,709.9 527.0,724.9 531.9,716.9 536.9,712.9 541.9,714.9 546.8,707.9 551.8,698.9 556.8,686.9 561.7,689.9 566.7,688.9 571.7,682.9 576.6,681.9 581.6,681.5 586.6,679.9 591.5,686.9 596.5,677.5 601.5,677.5 606.5,693.5 611.4,701.9 616.4,695.9 621.4,702.9 626.3,700.9 631.3,696.9 636.3,701.9 641.2,707.9 646.2,698.9 651.2,695.9 656.1,700.5 661.1,706.5 666.1,716.9 671.0,701.9 676.0,706.9 681.0,708.9 685.9,702.9 690.9,702.9 695.9,708.9 700.8,716.9 705.8,715.9 710.8,709.9 715.8,705.9 720.7,708.9 725.7,713.9 730.7,704.9 735.6,705.5 740.6,701.9 745.6,692.9 750.5,691.9 755.5,703.9 760.5,692.9 765.4,694.9 770.4,694.9 775.4,688.9 780.3,685.9 785.3,683.9 790.3,693.9 795.2,695.9 800.2,692.9 805.2,691.9 810.2,703.9 815.1,703.9 820.1,699.9 825.1,730.9 830.0,716.9 835.0,708.9 840.0,712.9 844.9,722.9 849.9,721.9 854.9,726.9 859.8,732.9 864.8,729.5 869.8,726.9 874.7,713.9 879.7,715.9 884.7,695.9 889.6,704.9 894.6,699.5 899.6,685.9 904.5,672.0 909.5,681.5 914.5,681.9 919.5,682.9 924.4,681.9 929.4,687.9 934.4,691.9 939.3,689.9 944.3,692.9 949.3,688.9 954.2,699.9 959.2,705.9 964.2,710.9 969.1,708.3 974.1,724.9 979.1,715.9 984.0,711.9 989.0,698.9 994.0,689.9 998.9,685.9 1003.9,691.9 1008.9,695.9 1013.8,692.9 1018.8,697.9 1023.8,705.9 1028.8,696.9 1033.7,697.9 1038.7,696.9 1043.7,688.9 1048.6,676.9 1053.6,674.0 1058.6,682.9 1063.5,686.9 1068.5,697.9 1073.5,700.9 1078.4,684.9 1083.4,687.9 1088.4,687.9 1093.3,685.9 1098.3,669.0 1103.3,668.0 1108.2,659.0 1113.2,668.0 1118.2,670.0 1123.2,670.0 1128.1,665.6 1133.1,673.0 1138.1,687.9 1143.0,686.9 1148.0,686.9 1153.0,692.9 1157.9,692.9 1162.9,708.9 1167.9,710.5 1172.8,711.5 1177.8,714.9 1182.8,712.9 1187.7,710.9 1192.7,714.9 1197.7,716.9 1202.6,719.9 1207.6,716.9 1212.6,706.9 1217.5,711.9 1222.5,716.9 1227.5,721.9 1232.5,716.9 1237.4,707.9 1242.4,702.9 1247.4,686.9 1252.3,695.9 1257.3,692.9 1262.3,678.9 1267.2,682.9 1272.2,676.9" fill="none" stroke="#5a35b0" stroke-width="1.1" stroke-linejoin="round"/>
<path d="M1282.3 249.9 L1293 260.3 L1293 267.4 L1285.1 259.9 L1285.1 275.1 L1280 275.1 L1280 259.2 L1272 267.1 L1272 259.6 Z" fill="#b00000"/>
<path d="M1411.3 291.3 L1417.8 283.3 L1469.8 283.3 L1469.8 299.3 L1417.8 299.3 Z" fill="#8c98a4"/>
<rect x="1365" y="407.3" width="49" height="14.2" fill="#1a237e"/>
<g shape-rendering="crispEdges" fill="#c3cfd9">
<rect x="1414" y="54" width="6" height="1"/>
<rect x="1414" y="90" width="6" height="1"/>
<rect x="1414" y="126" width="6" height="1"/>
<rect x="1414" y="163" width="6" height="1"/>
<rect x="1414" y="199" width="6" height="1"/>
<rect x="1414" y="235" width="6" height="1"/>
<rect x="1414" y="272" width="6" height="1"/>
<rect x="1414" y="308" width="6" height="1"/>
<rect x="1414" y="344" width="6" height="1"/>
<rect x="1414" y="381" width="6" height="1"/>
<rect x="1414" y="417" width="6" height="1"/>
<rect x="1414" y="454" width="6" height="1"/>
<rect x="1414" y="490" width="6" height="1"/>
<rect x="1414" y="526" width="6" height="1"/>
<rect x="1414" y="563" width="6" height="1"/>
<rect x="1414" y="599" width="6" height="1"/>
<rect x="1414" y="647" width="6" height="1"/>
<rect x="1414" y="747" width="6" height="1"/>
<rect x="5" y="802" width="1" height="4"/>
<rect x="5" y="635" width="1" height="1" opacity="0.6"/>
<rect x="144" y="802" width="1" height="4"/>
<rect x="144" y="635" width="1" height="1" opacity="0.6"/>
<rect x="283" y="802" width="1" height="4"/>
<rect x="283" y="635" width="1" height="1" opacity="0.6"/>
<rect x="422" y="802" width="1" height="4"/>
<rect x="422" y="635" width="1" height="1" opacity="0.6"/>
<rect x="561" y="802" width="1" height="4"/>
<rect x="561" y="635" width="1" height="1" opacity="0.6"/>
<rect x="700" y="802" width="1" height="4"/>
<rect x="700" y="635" width="1" height="1" opacity="0.6"/>
<rect x="839" y="802" width="1" height="4"/>
<rect x="839" y="635" width="1" height="1" opacity="0.6"/>
<rect x="978" y="802" width="1" height="4"/>
<rect x="978" y="635" width="1" height="1" opacity="0.6"/>
<rect x="1117" y="802" width="1" height="4"/>
<rect x="1117" y="635" width="1" height="1" opacity="0.6"/>
<rect x="1256" y="802" width="1" height="4"/>
<rect x="1256" y="635" width="1" height="1" opacity="0.6"/>
<rect x="1396" y="802" width="1" height="4"/>
<rect x="1396" y="635" width="1" height="1" opacity="0.6"/>
</g>
</svg>
<div class="pl" style="top:47.1px">81969.5</div>
<div class="pl" style="top:83.5px">80252.4</div>
<div class="pl" style="top:119.8px">78535.3</div>
<div class="pl" style="top:156.2px">76818.3</div>
<div class="pl" style="top:192.6px">75101.2</div>
<div class="pl" style="top:228.9px">73384.1</div>
<div class="pl" style="top:265.3px">71667.1</div>
<div class="pl" style="top:301.7px">69950.0</div>
<div class="pl" style="top:338.1px">68232.9</div>
<div class="pl" style="top:374.4px">66515.9</div>
<div class="pl" style="top:410.8px">64798.8</div>
<div class="pl" style="top:447.2px">63081.7</div>
<div class="pl" style="top:483.5px">61364.7</div>
<div class="pl" style="top:519.9px">59647.6</div>
<div class="pl" style="top:556.3px">57930.5</div>
<div class="pl" style="top:592.6px">56213.4</div>
<div class="pl" style="top:623.9px">54496.4</div>
<div class="pl" style="top:640.9px">80.0</div>
<div class="pl" style="top:741.7px">20.0</div>
<div style="position:absolute;left:1417.8px;top:284px;width:52px;height:16px;line-height:16px;font-size:12px;font-weight:bold;color:#fff;text-align:center;letter-spacing:-0.15px">70768.3</div>
<div style="position:absolute;left:1370.3px;top:406.6px;height:14px;line-height:14px;font-size:10px;color:#fff;white-space:pre;letter-spacing:0.62px">65029.4</div>
<div class="tm" style="left:1340.6px;font-size:13.3px;color:#fb9822">02</div>
<div class="tm" style="left:1357.3px;font-size:14.6px;color:#aeb8c2">ч</div>
<div class="tm" style="left:1369.6px;font-size:13.3px;color:#fb9822">08</div>
<div class="tm" style="left:1385.8px;font-size:14.6px;color:#aeb8c2;letter-spacing:0.55px">мин</div>
<div class="tl" style="left:5.6px">25.01.2026</div>
<div class="tl" style="left:73.6px;letter-spacing:-0.2px">21:00</div>
<div class="tl" style="left:144.6px">30.01</div>
<div class="tl" style="left:180.5px;letter-spacing:-0.2px">13:00</div>
<div class="tl" style="left:283.6px">04.02</div>
<div class="tl" style="left:319.5px;letter-spacing:-0.2px">09:00</div>
<div class="tl" style="left:422.6px">09.02</div>
<div class="tl" style="left:458.5px;letter-spacing:-0.2px">05:00</div>
<div class="tl" style="left:561.6px">13.02</div>
<div class="tl" style="left:597.5px;letter-spacing:-0.2px">21:00</div>
<div class="tl" style="left:700.6px">18.02</div>
<div class="tl" style="left:736.5px;letter-spacing:-0.2px">17:00</div>
<div class="tl" style="left:839.6px">23.02</div>
<div class="tl" style="left:875.5px;letter-spacing:-0.2px">13:00</div>
<div class="tl" style="left:978.6px">28.02</div>
<div class="tl" style="left:1014.5px;letter-spacing:-0.2px">09:00</div>
<div class="tl" style="left:1117.6px">05.03</div>
<div class="tl" style="left:1153.5px;letter-spacing:-0.2px">01:00</div>
<div class="tl" style="left:1256.6px">09.03</div>
<div class="tl" style="left:1292.5px;letter-spacing:-0.2px">21:00</div>
<div class="tl" style="left:1396.6px">14.03</div>
<div class="tl" style="left:1432.5px;letter-spacing:-0.2px">13:00</div>
<div style="position:absolute;left:5.9px;top:618.1px;width:10px;height:9px"><div style="position:absolute;left:0;top:0;width:10px;height:5.6px;background:#a9a799"></div><div style="position:absolute;left:4.5px;top:2px;width:5px;height:0.7px;background:#e9e5cf"></div><div style="position:absolute;left:0;top:7.3px;width:10px;height:1.7px;background:#a9a799"></div></div><svg style="position:absolute;left:19.4px;top:618.9px" width="9" height="9" viewBox="0 0 9 9"><path d="M1.3 1.2 L7.7 7.4 M7.7 1.2 L1.3 7.4" stroke="#a9a799" stroke-width="2.5" fill="none"/></svg><div class="ind" style="left:31.5px;top:619.4px">EMA</div><div class="ind" style="left:56.6px;top:619.4px">[50,</div><div class="ind" style="left:77.5px;top:619.4px">0]</div><div class="ind" style="left:89.6px;top:619.4px">68485.4</div>
<div style="position:absolute;left:5.9px;top:788.1px;width:10px;height:9px"><div style="position:absolute;left:0;top:0;width:10px;height:5.6px;background:#a9a799"></div><div style="position:absolute;left:4.5px;top:2px;width:5px;height:0.7px;background:#e9e5cf"></div><div style="position:absolute;left:0;top:7.3px;width:10px;height:1.7px;background:#a9a799"></div></div><svg style="position:absolute;left:19.4px;top:788.9px" width="9" height="9" viewBox="0 0 9 9"><path d="M1.3 1.2 L7.7 7.4 M7.7 1.2 L1.3 7.4" stroke="#a9a799" stroke-width="2.5" fill="none"/></svg><div class="ind" style="left:31.4px;top:789.4px">RSI</div><div class="ind" style="left:50.8px;top:789.4px">[14]</div><div class="ind" style="left:71.8px;top:789.4px">62.3</div>
<div class="tb"></div><div class="h4"></div>
<div style="position:absolute;left:20px;top:11.5px;font-size:12.5px;line-height:14px;font-weight:bold;color:#3b4852;letter-spacing:-0.2px;transform-origin:0 0;transform:scaleX(0.93)">BITCOIN</div>
<div style="position:absolute;left:70.2px;top:14.5px;font-size:8px;line-height:10px;font-weight:bold;color:#8e8e8e;letter-spacing:-0.1px;transform-origin:0 0;transform:scaleX(0.88)">CFD</div>
<div style="position:absolute;left:93.8px;top:15.4px;width:0;height:0;border-left:3.7px solid transparent;border-right:3.7px solid transparent;border-top:4px solid #777"></div>
<div style="position:absolute;left:142.3px;top:15.6px;font-size:10.2px;line-height:12px;color:#4a5560">H4</div>
<div style="position:absolute;left:169px;top:17px;width:0;height:0;border-left:4px solid transparent;border-right:4px solid transparent;border-top:4.1px solid #777"></div>
</body></html>
